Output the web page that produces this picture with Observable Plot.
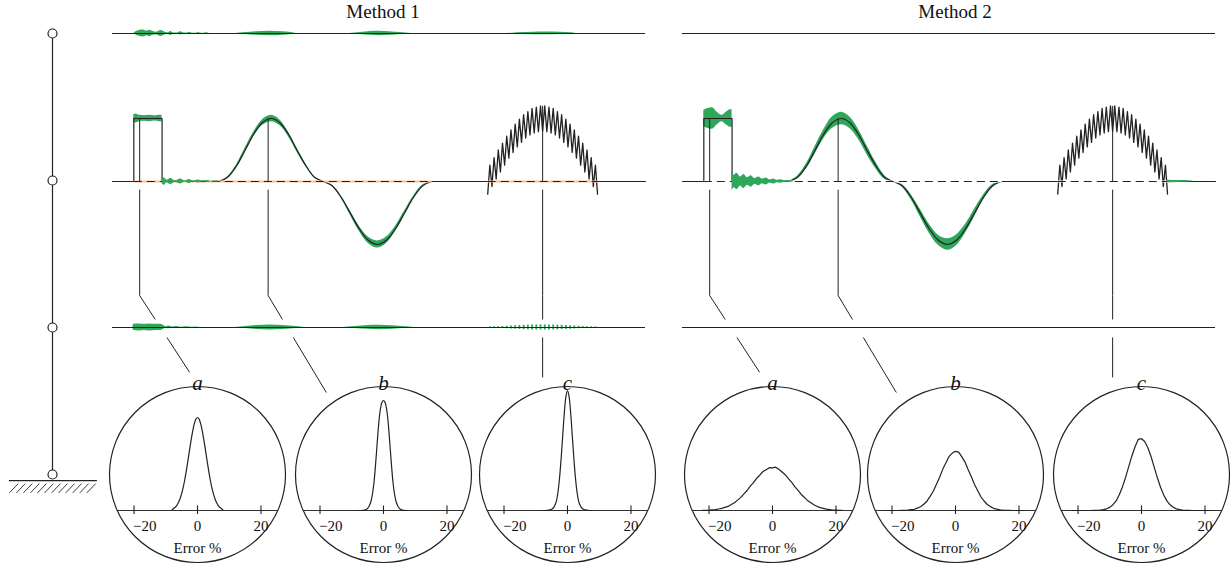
<!DOCTYPE html>
<html><head><meta charset="utf-8">
<script src="https://cdn.jsdelivr.net/npm/d3@7"></script>
<script src="https://cdn.jsdelivr.net/npm/@observablehq/plot@0.6"></script>
<style>
html,body{margin:0;padding:0;background:#fff;overflow:hidden}
#fig{position:relative;width:1231px;height:565px;font-family:"Liberation Serif","Times New Roman",serif;}
#fig > *{position:absolute;}
#fig svg text{font-family:"Liberation Serif","Times New Roman",serif;}
.title{font-size:19px;line-height:24px;color:#111;text-align:center;width:200px;}
</style></head><body><div id="fig"></div>
<script>
const INK = "#222";
const GREEN = "#2fa65a";
const SERIF = '"Liberation Serif","Times New Roman",serif';

// ---------------- data ----------------
const methods = ["Method 1", "Method 2"];
const floors = [0, 1, 2, 3];
const markerLabels = ["a", "b", "c"];
const markerTimes = [0.51, 2.92, 8.07];
const markerPeaks = [1.0, 1.0, 1.2];

// true load (solid black)
const pulseLine = [[0,0],[0.40,0],[0.40,1],[0.93,1],[0.93,0],[2.00,0]];
const bumpTimes = [2.00,2.16,2.33,2.49,2.65,2.81,2.98,3.14,3.30,3.46,3.63,3.79,3.95,
                   4.12,4.29,4.46,4.63,4.80,4.97,5.14,5.31,5.48,5.65,5.82,5.99];
const bumpValues = [0,0.067,0.25,0.5,0.75,0.933,1,0.933,0.75,0.5,0.25,0.067,0,
                    -0.067,-0.25,-0.5,-0.75,-0.933,-1,-0.933,-0.75,-0.5,-0.25,-0.067,0];
const quietLine = [[5.99,0],[7.04,0]];
const zigzagStart = 7.04, zigzagEnd = 9.10;
const zigzagValues = [-0.20,0.26,-0.08,0.38,0.04,0.50,0.15,0.61,0.26,0.72,0.37,0.82,0.46,0.91,0.55,0.99,0.62,1.06,0.69,1.11,0.74,1.16,0.77,1.18,0.79,1.20,0.80,
                      1.20,0.79,1.18,0.77,1.16,0.74,1.11,0.69,1.06,0.62,0.99,0.55,0.91,0.46,0.82,0.37,0.72,0.26,0.61,0.15,0.50,0.04,0.38,-0.08,0.26,-0.20];
const tailLine = [[9.10,0],[10,0]];
const zeroDashRanges = [[0.40,5.99],[7.04,9.10]];

// estimate spread (green), half-widths
const bumpBandM1 = [0,0.01,0.02,0.03,0.035,0.045,0.05,0.045,0.035,0.03,0.02,0.01,0,
                    0.01,0.02,0.03,0.04,0.05,0.055,0.05,0.04,0.03,0.02,0.01,0];
const bumpBandM2 = [0,0.02,0.04,0.06,0.07,0.09,0.10,0.09,0.08,0.07,0.05,0.03,0,
                    0.02,0.04,0.06,0.07,0.08,0.09,0.085,0.07,0.06,0.04,0.02,0];
const pulseBandM1 = [[0.40,0.06],[0.44,0.07],[0.50,0.05],[0.60,0.045],[0.70,0.05],[0.80,0.04],[0.88,0.05],[0.93,0.05]];
const pulseBandM2 = [[0.40,0.13],[0.48,0.16],[0.56,0.17],[0.65,0.10],[0.74,0.05],[0.82,0.10],[0.90,0.14],[0.93,0.14]];
const ringBandM1 = [[0.93,0.03],[0.97,0.06],[1.02,0.02],[1.09,0.048],[1.18,0.012],[1.28,0.04],[1.36,0.01],[1.44,0.032],[1.52,0.008],[1.61,0.024],[1.70,0.006],[1.78,0.016],[1.86,0.004],[1.95,0.011],[2.02,0]];
const ringBandM2 = [[0.93,0.15],[0.97,0.10],[1.02,0.13],[1.09,0.07],[1.15,0.11],[1.22,0.06],[1.29,0.09],[1.36,0.045],[1.43,0.07],[1.50,0.035],[1.57,0.055],[1.64,0.025],[1.71,0.04],[1.78,0.018],[1.85,0.028],[1.92,0.012],[2.00,0.015],[2.10,0]];
const afterBandM1 = [];
const afterBandM2 = [[9.10,0.02],[9.30,0.015],[9.50,0.01],[9.60,0]];
const topBandM1 = [[0.40,0],[0.45,0.03],[0.52,0.05],[0.58,0.055],[0.64,0.035],[0.70,0.05],[0.76,0.03],[0.82,0.02],[0.91,0.048],[0.99,0.02],[1.04,0.01],[1.09,0.032],[1.15,0.008],[1.22,0.006],[1.28,0.025],[1.34,0.006],[1.40,0.005],[1.44,0.02],[1.50,0.004],[1.56,0.003],[1.61,0.016],[1.67,0.003],[1.72,0.003],[1.76,0.01],[1.82,0],
  [2.30,0],[2.50,0.015],[2.70,0.028],[2.95,0.036],[3.20,0.028],[3.35,0.015],[3.45,0],
  [4.45,0],[4.65,0.015],[4.85,0.03],[5.00,0.035],[5.20,0.028],[5.40,0.015],[5.60,0],
  [7.40,0],[7.60,0.012],[7.90,0.02],[8.10,0.022],[8.40,0.018],[8.60,0.01],[8.70,0]];
const topBandM2 = [];
const bottomBandM1 = [[0.38,0],[0.40,0.05],[0.50,0.055],[0.60,0.05],[0.70,0.055],[0.80,0.05],[0.90,0.05],[0.96,0.03],[1.00,0.01],[1.06,0.022],[1.12,0.006],[1.20,0.016],[1.28,0.005],[1.39,0.012],[1.48,0.003],[1.56,0.008],[1.65,0],
  [2.30,0],[2.50,0.015],[2.70,0.032],[2.95,0.04],[3.20,0.032],[3.45,0.015],[3.62,0],
  [4.32,0],[4.55,0.015],[4.80,0.03],[5.00,0.035],[5.25,0.028],[5.50,0.012],[5.66,0]];
const bottomBandM2 = [];
const bottomRippleM1 = [0.008,0.01,0.013,0.016,0.02,0.024,0.027,0.031,0.034,0.037,0.039,0.04,0.041,0.041,0.04,0.039,0.037,0.034,0.031,0.027,0.024,0.02,0.016,0.013,0.01,0.008];
const bottomRippleM2 = [];

// error distributions
const errorTicks = [-20, 0, 20];
const errorTickLabels = ["\u221220", "0", "20"];
const gridM1 = [-8,-7.5,-7,-6.5,-6,-5.5,-5,-4.5,-4,-3.5,-3,-2.5,-2,-1.5,-1,-0.5,0,0.5,1,1.5,2,2.5,3,3.5,4,4.5,5,5.5,6,6.5,7,7.5,8];
const gridM2 = [-22,-21,-20,-19,-18,-17,-16,-15,-14,-13,-12,-11,-10,-9,-8,-7,-6,-5,-4,-3,-2,-1,0,1,2,3,4,5,6,7,8,9,10,11,12,13,14,15,16,17,18,19,20,21,22];
const densM1a = [0.006,0.020,0.032,0.051,0.079,0.117,0.168,0.232,0.310,0.401,0.502,0.606,0.707,0.797,0.868,0.914,0.930,0.914,0.868,0.797,0.707,0.606,0.502,0.401,0.310,0.232,0.168,0.117,0.079,0.051,0.032,0.020,0.006];
const densM1b = [0,0,0,0.001,0.004,0.010,0.022,0.045,0.085,0.160,0.280,0.460,0.670,0.870,1.010,1.080,1.100,1.080,1.010,0.870,0.670,0.460,0.280,0.160,0.085,0.045,0.022,0.010,0.004,0.001,0,0,0];
const densM1c = [0,0,0,0.001,0.003,0.006,0.012,0.025,0.050,0.094,0.184,0.327,0.522,0.751,0.975,1.139,1.200,1.139,0.975,0.751,0.522,0.327,0.184,0.094,0.050,0.025,0.012,0.006,0.003,0.001,0,0,0];
const densM2a = [0.001,0.002,0.004,0.007,0.009,0.015,0.021,0.031,0.041,0.059,0.077,0.104,0.131,0.167,0.200,0.243,0.279,0.322,0.353,0.390,0.408,0.428,0.426,0.433,0.412,0.385,0.358,0.318,0.283,0.239,0.203,0.163,0.133,0.101,0.079,0.057,0.043,0.029,0.021,0.013,0.009,0.005,0.004,0.002,0.001];
const densM2b = [0,0,0,0,0,0.001,0.002,0.004,0.008,0.012,0.024,0.037,0.062,0.093,0.141,0.193,0.263,0.333,0.414,0.478,0.542,0.574,0.592,0.583,0.536,0.484,0.408,0.337,0.259,0.197,0.137,0.095,0.060,0.039,0.022,0.013,0.007,0.004,0.002,0.001,0,0,0,0,0];
const densM2c = [0,0,0,0,0,0,0,0.001,0.002,0.004,0.008,0.017,0.031,0.058,0.096,0.158,0.236,0.333,0.441,0.548,0.640,0.712,0.718,0.690,0.628,0.540,0.433,0.327,0.232,0.155,0.096,0.057,0.032,0.016,0.008,0.004,0.002,0.001,0,0,0,0,0,0,0];

// ---------------- layout ----------------
const fig = document.getElementById("fig");
const place = (el, left, top) => { el.style.left = left + "px"; el.style.top = top + "px"; fig.appendChild(el); return el; };
const clear = "background:transparent;overflow:visible;font-family:" + SERIF + ";";

const panelLeft = {"Method 1": 112, "Method 2": 682};
const panelWidth = 533, panelHeight = 395;
const TRACK_TOP = 2.35, TRACK_BOTTOM = -2.317;
const GAP_BASE = -0.13, KNEE = -1.81, GAP1 = -2.19, GAP2 = -2.476;
const leaderSlope = {a: 0.768, b: 0.709, c: 0};
const leaderEnd = {a: -3.03, b: -3.35, c: -3.11};

const bands = {
  "Method 1": {bump: bumpBandM1, pulse: pulseBandM1, ring: ringBandM1, after: afterBandM1, top: topBandM1, bottom: bottomBandM1, ripple: bottomRippleM1, gap: "#f6c29c"},
  "Method 2": {bump: bumpBandM2, pulse: pulseBandM2, ring: ringBandM2, after: afterBandM2, top: topBandM2, bottom: bottomBandM2, ripple: bottomRippleM2, gap: "#ffffff"}
};

function panel(m) {
  const B = bands[m];
  const step = (zigzagEnd - zigzagStart) / (zigzagValues.length - 1);
  const zz = zigzagValues.map((v, i) => [zigzagStart + i * step, v]);
  const bumps = bumpTimes.map((t, i) => ({t, v: bumpValues[i], w: B.bump[i]}));
  const ripple = B.ripple.map((w, k) => ({t: zigzagStart + (2 * k + 1) * step, w}));
  const legs = [];
  markerLabels.forEach((lab, i) => {
    const t = markerTimes[i], s = leaderSlope[lab], end = leaderEnd[lab];
    const at = y => t + s * (KNEE - y);
    legs.push({x1: t, y1: markerPeaks[i], x2: t, y2: 0});
    legs.push({x1: t, y1: GAP_BASE, x2: t, y2: KNEE});
    legs.push({x1: t, y1: KNEE, x2: at(GAP1), y2: GAP1});
    legs.push({x1: at(GAP2), y1: GAP2, x2: at(end), y2: end});
  });
  const ln = {x: d => d[0], y: d => d[1], stroke: INK, strokeWidth: 1.2};
  const band = (data, c) => Plot.areaY(data, {x: d => d[0], y1: d => c - d[1], y2: d => c + d[1], fill: GREEN, curve: "monotone-x"});
  return Plot.plot({
    width: panelWidth, height: panelHeight, margin: 0,
    x: {domain: [0, 10], axis: null},
    y: {domain: [-3.397, 2.873], axis: null},
    style: clear,
    marks: [
      band(B.top, TRACK_TOP),
      band(B.bottom, TRACK_BOTTOM),
      Plot.ruleX(ripple, {x: "t", y1: d => TRACK_BOTTOM - d.w, y2: d => TRACK_BOTTOM + d.w, stroke: GREEN, strokeWidth: 1.8}),
      Plot.ruleY([TRACK_TOP, TRACK_BOTTOM], {stroke: INK, strokeWidth: 1.1}),
      band(B.pulse, 1),
      Plot.areaY(bumps, {x: "t", y1: d => d.v - d.w, y2: d => d.v + d.w, fill: GREEN, curve: "catmull-rom"}),
      Plot.line(pulseLine, ln),
      Plot.line(bumps, {x: "t", y: "v", stroke: INK, strokeWidth: 1.2, curve: "catmull-rom"}),
      Plot.line(quietLine, ln),
      Plot.line(zz, {...ln, strokeWidth: 1.3}),
      Plot.line(tailLine, ln),
      Plot.link(zeroDashRanges, {x1: d => d[0], x2: d => d[1], y1: 0, y2: 0, stroke: B.gap, strokeWidth: 2.2}),
      Plot.link(zeroDashRanges, {x1: d => d[0], x2: d => d[1], y1: 0, y2: 0, stroke: INK, strokeWidth: 1.2, strokeDasharray: "8,5"}),
      band(B.ring, 0),
      band(B.after, 0),
      Plot.link(legs, {x1: "x1", y1: "y1", x2: "x2", y2: "y2", stroke: INK, strokeWidth: 1})
    ]
  });
}

const RADIUS = 88, PX_PER_ERR = 3.175, AXIS_DROP = 36;
const chord = Math.sqrt(RADIUS * RADIUS - AXIS_DROP * AXIS_DROP) / PX_PER_ERR;
function circlePlot(grid, values, label, curve) {
  const pts = grid.map((x, i) => [x, values[i]]);
  const ticks = errorTicks.map((x, i) => ({x, label: errorTickLabels[i]}));
  const txt = {fontFamily: SERIF, fill: "#111"};
  return Plot.plot({
    width: 180, height: 210, marginTop: 30, marginBottom: 0, marginLeft: 0, marginRight: 0,
    x: {domain: [-28.35, 28.35], axis: null},
    y: {domain: [-0.54, 1.26], axis: null},
    style: clear,
    marks: [
      Plot.dot([label], {frameAnchor: "middle", r: RADIUS, stroke: INK, strokeWidth: 1.2, fill: "none"}),
      Plot.ruleY([0], {x1: -chord, x2: chord, stroke: "#333", strokeWidth: 1.1}),
      Plot.ruleX(errorTicks, {x: d => d, y1: -0.04, y2: 0.045, stroke: INK, strokeWidth: 1.1}),
      Plot.text(ticks.filter(d => d.x < 0), {x: "x", y: 0, dy: 16, dx: -1, text: "label", textAnchor: "start", fontSize: 15, ...txt}),
      Plot.text(ticks.filter(d => d.x >= 0), {x: "x", y: 0, dy: 16, text: "label", textAnchor: "middle", fontSize: 15, ...txt}),
      Plot.text(["Error %"], {x: 0, y: 0, dy: 38, fontSize: 15, ...txt}),
      Plot.line(pts, {x: d => d[0], y: d => d[1], stroke: INK, strokeWidth: 1.2, curve}),
      Plot.text([label], {frameAnchor: "top", dy: -9, fontSize: 21, fontStyle: "italic", ...txt})
    ]
  });
}

// left schematic
const hatch = [-0.98,-0.82,-0.66,-0.50,-0.34,-0.18,-0.02,0.14,0.30,0.46,0.62,0.78];
place(Plot.plot({
  width: 110, height: 565, marginLeft: 8, marginRight: 14, marginTop: 33, marginBottom: 91,
  x: {domain: [-1, 1], axis: null}, y: {domain: [0, 3], axis: null},
  style: clear,
  marks: [
    Plot.ruleX([0], {y1: 0, y2: 3, stroke: INK, strokeWidth: 1.2}),
    Plot.ruleY([-0.041], {x1: -0.98, x2: 1.02, stroke: INK, strokeWidth: 1.2}),
    Plot.link(hatch, {x1: d => d, y1: -0.125, x2: d => d + 0.2, y2: -0.062, stroke: INK, strokeWidth: 0.9}),
    Plot.dot(floors, {x: 0, y: d => d, r: 4.5, stroke: INK, strokeWidth: 1.2, fill: "white"})
  ]
}), 0, 0);

// panels
methods.forEach(m => place(panel(m), panelLeft[m], 0));

// circles
const circleCenters = {"Method 1": [197, 383, 567], "Method 2": [772, 955, 1141]};
const dists = {
  "Method 1": [[gridM1, densM1a], [gridM1, densM1b], [gridM1, densM1c]],
  "Method 2": [[gridM2, densM2a], [gridM2, densM2b], [gridM2, densM2c]]
};
methods.forEach(m => {
  dists[m].forEach(([g, v], i) => {
    place(circlePlot(g, v, markerLabels[i], m === "Method 1" ? "catmull-rom" : "linear"), circleCenters[m][i] - 90, 354);
  });
  const t = document.createElement("div");
  t.className = "title";
  t.textContent = m;
  place(t, circleCenters[m][1] - 100, 0);
});
</script></body></html>
